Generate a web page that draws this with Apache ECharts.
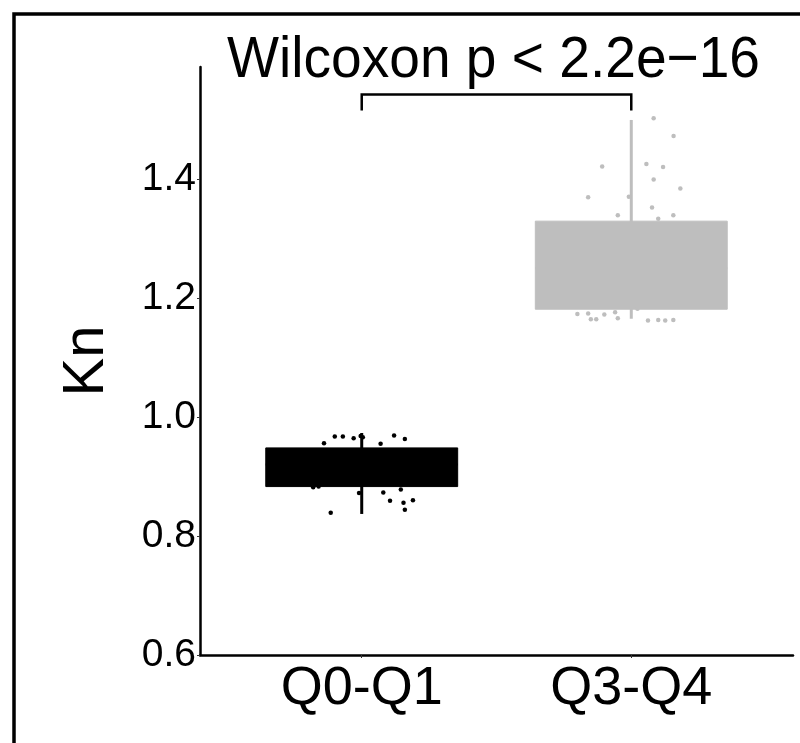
<!DOCTYPE html>
<html>
<head>
<meta charset="utf-8">
<script src="https://cdn.jsdelivr.net/npm/echarts@6/dist/echarts.min.js"></script>
<style>
  html, body { margin: 0; padding: 0; background: #fff; }
  #chart { width: 800px; height: 743px; }
</style>
</head>
<body>
<div id="chart"></div>
<script>
const categories = ['Q0-Q1', 'Q3-Q4'];
const whiskerLow = [0.837, 1.165];
const q1 = [0.883, 1.181];
const median = [0.92, 1.25];
const q3 = [0.948, 1.329];
const whiskerHigh = [0.973, 1.499];
const yTicks = [0.6, 0.8, 1.0, 1.2, 1.4];

// jittered points: [offset from category centre, Kn]
const pointsQ0Q1 = [
  [-0.004, 0.968], [0.004, 0.966], [-0.10, 0.967], [-0.07, 0.967], [-0.03, 0.964],
  [-0.14, 0.956], [0.12, 0.969], [0.16, 0.963], [0.07, 0.955],
  [-0.18, 0.882], [-0.16, 0.883], [-0.01, 0.872], [0.08, 0.873], [0.145, 0.878],
  [0.105, 0.859], [0.155, 0.856], [0.19, 0.860], [0.16, 0.844], [-0.115, 0.839]
];
const pointsQ3Q4 = [
  [0.083, 1.502], [0.157, 1.472], [-0.108, 1.421], [0.056, 1.425], [0.118, 1.420],
  [0.083, 1.399], [0.182, 1.384], [-0.16, 1.369], [-0.009, 1.370], [0.077, 1.352],
  [-0.05, 1.339], [0.156, 1.339], [0.10, 1.333],
  [-0.20, 1.173], [-0.16, 1.174], [-0.15, 1.164], [-0.13, 1.164], [-0.10, 1.172],
  [-0.06, 1.176], [-0.05, 1.166], [0.023, 1.182], [0.062, 1.162], [0.10, 1.163],
  [0.126, 1.162], [0.156, 1.163]
];

const pLabel = 'Wilcoxon p < 2.2e\u221216';
const bracketTop = 1.542;
const bracketFoot = 1.515;

const boxColors = ['#000000', '#bebebe'];
const font = 'Liberation Sans, Arial, Helvetica, sans-serif';
const halfBox = 0.356;

const chart = echarts.init(document.getElementById('chart'));

const boxData = categories.map((c, i) => [i + 1, whiskerLow[i], q1[i], median[i], q3[i], whiskerHigh[i]]);

const renderBox = (params, api) => {
  const x = api.value(0);
  const color = boxColors[params.dataIndex];
  const lo = api.coord([x, api.value(1)]);
  const hi = api.coord([x, api.value(5)]);
  const tl = api.coord([x - halfBox, api.value(4)]);
  const br = api.coord([x + halfBox, api.value(2)]);
  const ml = api.coord([x - halfBox, api.value(3)]);
  const mr = api.coord([x + halfBox, api.value(3)]);
  return {
    type: 'group',
    children: [
      {
        type: 'line',
        shape: { x1: lo[0], y1: lo[1], x2: hi[0], y2: hi[1] },
        style: { stroke: color, lineWidth: 3 },
      },
      {
        type: 'rect',
        shape: { x: tl[0], y: tl[1], width: br[0] - tl[0], height: br[1] - tl[1] },
        style: { fill: color, stroke: color, lineWidth: 1 },
      },
      {
        type: 'line',
        shape: { x1: ml[0], y1: ml[1], x2: mr[0], y2: mr[1] },
        style: { stroke: color, lineWidth: 2 },
      },
    ],
  };
};

const renderBracket = (params, api) => {
  const a = api.coord([api.value(0), api.value(3)]);
  const b = api.coord([api.value(0), api.value(2)]);
  const c = api.coord([api.value(1), api.value(2)]);
  const d = api.coord([api.value(1), api.value(3)]);
  const mid = api.coord([(api.value(0) + api.value(1)) / 2, api.value(2)]);
  return {
    type: 'group',
    children: [
      {
        type: 'polyline',
        shape: { points: [a, b, c, d] },
        style: { stroke: '#000', lineWidth: 2.5, fill: null },
      },
      {
        type: 'text',
        x: mid[0] - 3,
        y: mid[1] - 4,
        scaleX: 0.95,
        style: {
          text: pLabel,
          fill: '#000',
          font: '58px ' + font,
          textAlign: 'center',
          textVerticalAlign: 'bottom',
        },
      },
    ],
  };
};

const option = {
  animation: false,
  backgroundColor: '#fff',
  textStyle: { fontFamily: font },
  grid: {
    left: 200,
    right: 7,
    top: 67,
    bottom: 88,
    containLabel: false,
    outerBoundsMode: 'none',
  },
  xAxis: {
    type: 'value',
    min: 0.4,
    max: 2.6,
    splitLine: { show: false },
    axisLine: { show: true, lineStyle: { color: '#000', width: 2.5 } },
    axisTick: { show: true, customValues: [1, 2], length: 3, lineStyle: { color: '#333', width: 1 } },
    axisLabel: {
      customValues: [1, 2],
      formatter: (v) => categories[Math.round(v) - 1],
      color: '#000',
      fontSize: 54,
      fontFamily: font,
      margin: 7,
    },
  },
  yAxis: {
    type: 'value',
    min: 0.6,
    max: 1.588,
    name: 'Kn',
    nameLocation: 'middle',
    nameGap: 84,
    nameTextStyle: { color: '#000', fontSize: 58, fontFamily: font },
    splitLine: { show: false },
    axisLine: { show: true, lineStyle: { color: '#000', width: 2.5 } },
    axisTick: { show: true, customValues: yTicks, length: 3, lineStyle: { color: '#333', width: 1 } },
    axisLabel: {
      customValues: yTicks,
      formatter: (v) => v.toFixed(1),
      color: '#000',
      fontSize: 39,
      fontFamily: font,
      margin: 4,
    },
  },
  graphic: [
    {
      type: 'rect',
      silent: true,
      shape: { x: 14, y: 14, width: 1000, height: 1000 },
      style: { fill: 'none', stroke: '#000', lineWidth: 3.5 },
    },
  ],
  series: [
    {
      type: 'custom',
      name: 'box',
      renderItem: renderBox,
      data: boxData,
      encode: { x: 0, y: [1, 2, 3, 4, 5] },
      z: 2,
    },
    {
      type: 'scatter',
      name: 'Q0-Q1',
      data: pointsQ0Q1.map((p) => [1 + p[0], p[1]]),
      symbolSize: 4.5,
      itemStyle: { color: boxColors[0], opacity: 1 },
      z: 3,
    },
    {
      type: 'scatter',
      name: 'Q3-Q4',
      data: pointsQ3Q4.map((p) => [2 + p[0], p[1]]),
      symbolSize: 4.5,
      itemStyle: { color: boxColors[1], opacity: 1 },
      z: 3,
    },
    {
      type: 'custom',
      name: 'bracket',
      renderItem: renderBracket,
      data: [[1, 2, bracketTop, bracketFoot]],
      encode: { x: [0, 1], y: [2, 3] },
      clip: false,
      z: 4,
    },
  ],
};

chart.setOption(option);
</script>
</body>
</html>
